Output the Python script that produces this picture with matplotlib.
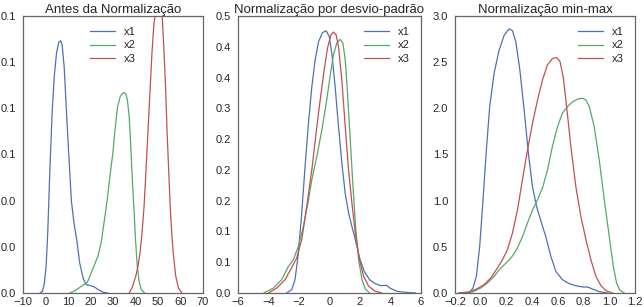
import numpy as np
import matplotlib
matplotlib.use("Agg")
import matplotlib.pyplot as plt

plt.rcParams['font.family'] = ['Liberation Sans', 'DejaVu Sans']

# ---------------- data ----------------
series_names = ['x1', 'x2', 'x3']
colors = ['#4C72B0', '#55A868', '#C44E52']

# Panel 1: Antes da Normalização
p1_x1_x = [-2.4, -1.35, -0.5, 0.26, 0.99, 2.0, 3.0, 3.9, 4.9, 5.9, 6.7, 7.4, 8.3, 9.3, 10.4, 11.5, 12.7, 13.9, 15.2, 16.7, 18.1, 20.0, 21.8, 23.5, 25.4, 27.6]
p1_x1_y = [0.0, 0.0007, 0.0043, 0.0115, 0.026, 0.055, 0.079, 0.094, 0.104, 0.1086, 0.1093, 0.1074, 0.098, 0.079, 0.059, 0.040, 0.030, 0.023, 0.013, 0.0065, 0.0036, 0.0032, 0.0026, 0.0014, 0.0004, 0.0]
p1_x2_x = [10.8, 13.0, 15.9, 18.6, 20.3, 21.8, 23.3, 24.7, 26.2, 27.4, 28.8, 29.9, 30.9, 32.0, 33.2, 34.2, 35.0, 35.7, 36.4, 37.2, 37.9, 38.6, 39.4, 40.1, 40.8, 41.6, 42.6, 44.1]
p1_x2_y = [0.0, 0.0009, 0.0029, 0.0046, 0.0087, 0.0123, 0.0159, 0.0216, 0.0317, 0.0401, 0.0519, 0.0603, 0.0707, 0.0805, 0.0851, 0.0865, 0.0868, 0.0862, 0.0836, 0.0764, 0.0634, 0.049, 0.0346, 0.0216, 0.0115, 0.0050, 0.0014, 0.0]
p1_x3_x = [37.2, 38.6, 40.1, 41.1, 42.0, 42.9, 43.8, 44.6, 45.5, 46.4, 47.3, 48.2, 48.9, 50.3, 51.8, 52.5, 53.3, 54.0, 54.8, 55.5, 56.2, 56.9, 57.9, 59.1, 60.6]
p1_x3_y = [0.0, 0.0026, 0.0072, 0.0115, 0.0173, 0.026, 0.0375, 0.0519, 0.0692, 0.0865, 0.1038, 0.1168, 0.1211, 0.125, 0.1211, 0.1082, 0.0908, 0.0707, 0.0519, 0.036, 0.0245, 0.0159, 0.0072, 0.0022, 0.0]

# Panel 2: Normalização por desvio-padrão
p2_x1_x = [-2.81, -2.48, -2.26, -2.04, -1.82, -1.60, -1.38, -1.16, -0.94, -0.72, -0.46, -0.22, -0.02, 0.15, 0.37, 0.59, 0.81, 1.03, 1.25, 1.47, 1.69, 1.97, 2.28, 2.63, 3.0, 3.38, 3.73, 3.99, 4.43, 4.98, 5.64]
p2_x1_y = [0.0, 0.0054, 0.0216, 0.065, 0.130, 0.206, 0.276, 0.335, 0.379, 0.408, 0.423, 0.426, 0.417, 0.390, 0.335, 0.271, 0.211, 0.162, 0.130, 0.108, 0.087, 0.057, 0.035, 0.0216, 0.0151, 0.0119, 0.0124, 0.0076, 0.0027, 0.0011, 0.0]
p2_x2_x = [-4.3, -3.68, -3.14, -2.70, -2.37, -2.04, -1.71, -1.38, -1.16, -0.83, -0.50, -0.18, 0.04, 0.26, 0.48, 0.70, 0.88, 1.03, 1.18, 1.36, 1.54, 1.71, 1.91, 2.13, 2.35, 2.63]
p2_x2_y = [0.0, 0.008, 0.0216, 0.043, 0.054, 0.076, 0.108, 0.151, 0.184, 0.222, 0.265, 0.314, 0.352, 0.387, 0.406, 0.412, 0.406, 0.379, 0.325, 0.249, 0.173, 0.108, 0.054, 0.0216, 0.0065, 0.0]
p2_x3_x = [-4.0, -3.46, -2.92, -2.48, -2.15, -1.82, -1.49, -1.16, -0.88, -0.61, -0.35, -0.13, 0.09, 0.26, 0.44, 0.59, 0.81, 1.03, 1.25, 1.47, 1.69, 1.97, 2.24, 2.57, 3.0, 3.44]
p2_x3_y = [0.0, 0.008, 0.0216, 0.041, 0.057, 0.087, 0.141, 0.200, 0.260, 0.314, 0.362, 0.398, 0.419, 0.424, 0.419, 0.400, 0.346, 0.271, 0.200, 0.146, 0.097, 0.054, 0.027, 0.011, 0.0027, 0.0]

# Panel 3: Normalização min-max
p3_x1_x = [-0.091, -0.060, -0.034, -0.008, 0.018, 0.044, 0.070, 0.104, 0.143, 0.182, 0.221, 0.247, 0.273, 0.304, 0.338, 0.371, 0.403, 0.434, 0.468, 0.506, 0.545, 0.584, 0.636, 0.688, 0.740, 0.792, 0.831, 0.870, 0.922, 0.987]
p3_x1_y = [0.0, 0.054, 0.180, 0.505, 1.01, 1.55, 2.02, 2.38, 2.63, 2.79, 2.86, 2.84, 2.72, 2.42, 1.98, 1.51, 1.15, 0.94, 0.78, 0.61, 0.40, 0.234, 0.144, 0.101, 0.079, 0.065, 0.065, 0.043, 0.014, 0.0]
p3_x2_x = [-0.17, -0.065, 0.0, 0.052, 0.104, 0.156, 0.208, 0.247, 0.286, 0.325, 0.364, 0.403, 0.442, 0.481, 0.519, 0.558, 0.597, 0.636, 0.675, 0.714, 0.753, 0.792, 0.818, 0.844, 0.883, 0.922, 0.961, 1.0, 1.031, 1.057, 1.083, 1.117]
p3_x2_y = [0.0, 0.011, 0.054, 0.108, 0.18, 0.27, 0.34, 0.40, 0.49, 0.61, 0.76, 0.90, 1.01, 1.14, 1.33, 1.59, 1.80, 1.95, 2.02, 2.07, 2.10, 2.11, 2.09, 2.02, 1.80, 1.44, 1.01, 0.61, 0.29, 0.108, 0.029, 0.0]
p3_x3_x = [-0.17, -0.091, -0.026, 0.026, 0.078, 0.13, 0.169, 0.208, 0.247, 0.286, 0.325, 0.364, 0.403, 0.442, 0.481, 0.519, 0.558, 0.590, 0.616, 0.642, 0.668, 0.701, 0.740, 0.779, 0.818, 0.857, 0.896, 0.935, 0.974, 1.026]
p3_x3_y = [0.0, 0.011, 0.047, 0.09, 0.162, 0.27, 0.36, 0.47, 0.65, 0.90, 1.23, 1.55, 1.84, 2.09, 2.31, 2.47, 2.54, 2.55, 2.51, 2.34, 2.02, 1.59, 1.15, 0.83, 0.58, 0.36, 0.18, 0.079, 0.025, 0.0]

titles = ['Antes da Normalização', 'Normalização por desvio-padrão', 'Normalização min-max']

p1_xticks = [-10, 0, 10, 20, 30, 40, 50, 60, 70]
p1_xticklabels = ['\u221210', '0', '10', '20', '30', '40', '50', '60', '70']
p1_yticks = [0.0, 0.02, 0.04, 0.06, 0.08, 0.10, 0.12]
p1_yticklabels = ['0.0', '0.0', '0.0', '0.1', '0.1', '0.1', '0.1']

p2_xticks = [-6, -4, -2, 0, 2, 4, 6]
p2_xticklabels = ['\u22126', '\u22124', '\u22122', '0', '2', '4', '6']
p2_yticks = [0.0, 0.05, 0.10, 0.15, 0.20, 0.25, 0.30, 0.35, 0.40, 0.45]
p2_yticklabels = ['0.0', '0.1', '0.1', '0.2', '0.2', '0.2', '0.3', '0.4', '0.4', '0.5']

p3_xticks = [-0.2, 0.0, 0.2, 0.4, 0.6, 0.8, 1.0, 1.2]
p3_xticklabels = ['\u22120.2', '0.0', '0.2', '0.4', '0.6', '0.8', '1.0', '1.2']
p3_yticks = [0.0, 0.5, 1.0, 1.5, 2.0, 2.5, 3.0]
p3_yticklabels = ['0.0', '0.5', '1.0', '1.5', '2.0', '2.5', '3.0']

# ---------------- figure ----------------
W, H = 644, 307
fig = plt.figure(figsize=(W / 100, H / 100), dpi=100, facecolor='white')

def px_axes(x0, x1, y0, y1):
    return fig.add_axes([x0 / W, 1 - y1 / H, (x1 - x0) / W, (y1 - y0) / H])

axes = [px_axes(23, 203, 16, 293), px_axes(238, 421, 16, 293), px_axes(455, 635, 16, 293)]

panels = [
    ([(p1_x1_x, p1_x1_y), (p1_x2_x, p1_x2_y), (p1_x3_x, p1_x3_y)], (-10, 70), (0, 0.12),
     p1_xticks, p1_xticklabels, p1_yticks, p1_yticklabels, 'upper center'),
    ([(p2_x1_x, p2_x1_y), (p2_x2_x, p2_x2_y), (p2_x3_x, p2_x3_y)], (-6, 6), (0, 0.45),
     p2_xticks, p2_xticklabels, p2_yticks, p2_yticklabels, 'upper right'),
    ([(p3_x1_x, p3_x1_y), (p3_x2_x, p3_x2_y), (p3_x3_x, p3_x3_y)], (-0.2, 1.2), (0, 3.0),
     p3_xticks, p3_xticklabels, p3_yticks, p3_yticklabels, 'upper right'),
]

text_color = '#262626'
for ax, title, (curves, xl, yl, xt, xtl, yt, ytl, loc) in zip(axes, titles, panels):
    for (xs, ys), c, name in zip(curves, colors, series_names):
        ax.plot(xs, ys, color=c, lw=0.9, label=name, solid_joinstyle='round')
    ax.set_xlim(*xl)
    ax.set_ylim(*yl)
    ax.set_xticks(xt)
    ax.set_xticklabels(xtl)
    ax.set_yticks(yt)
    ax.set_yticklabels(ytl)
    ax.tick_params(axis='both', length=0, labelsize=8, colors=text_color)
    ax.tick_params(axis='x', pad=3)
    ax.tick_params(axis='y', pad=5)
    for s in ax.spines.values():
        s.set_color('#666666')
        s.set_linewidth(0.9)
    ax.set_title(title, fontsize=9.5, color=text_color, pad=2)
    leg = ax.legend(loc=loc, frameon=False, fontsize=8, handlelength=2.3,
                    handletextpad=0.8, labelspacing=0.3, borderaxespad=0.6)
    for t in leg.get_texts():
        t.set_color(text_color)

fig.savefig('out.png', dpi=100, facecolor='white')
